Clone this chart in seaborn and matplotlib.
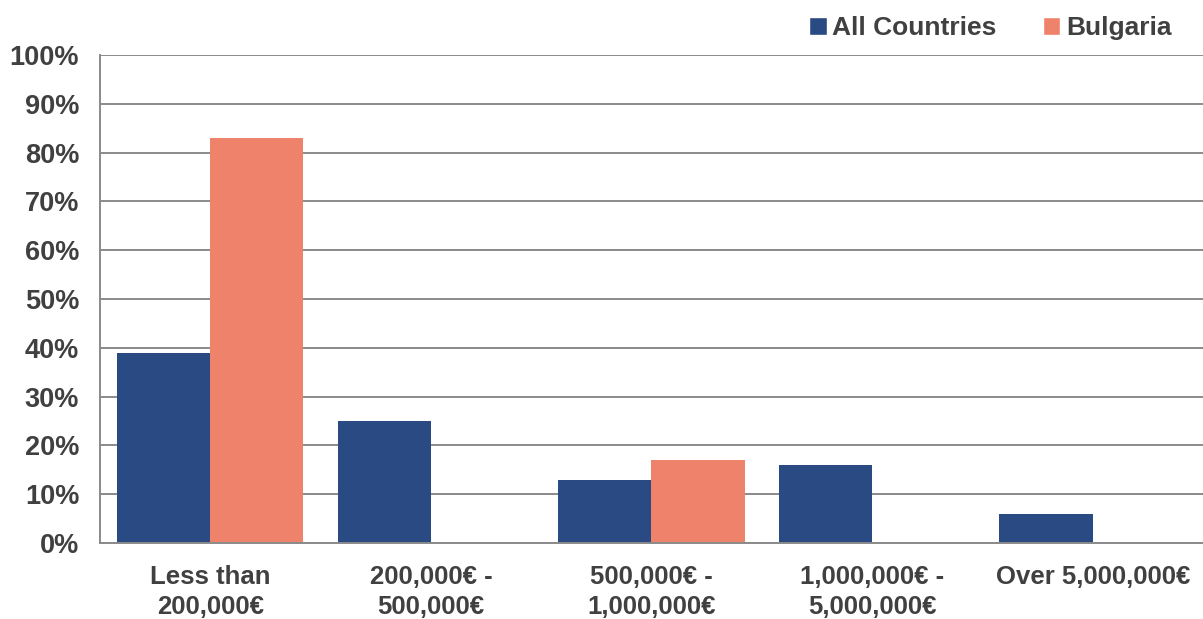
import pandas as pd
import matplotlib.pyplot as plt
import seaborn as sns
from matplotlib.patches import Patch
from matplotlib.ticker import PercentFormatter

# data
bands = ['Less than\n200,000€', '200,000€ -\n500,000€', '500,000€ -\n1,000,000€',
         '1,000,000€ -\n5,000,000€', 'Over 5,000,000€']
all_countries = [39, 25, 13, 16, 6]
bulgaria = [83, 0, 17, 0, 0]
groups = ['All Countries', 'Bulgaria']
colors = ['#2A4A83', '#EF826B']

df = pd.DataFrame({
    'band': bands * 2,
    'share': all_countries + bulgaria,
    'group': [groups[0]] * len(bands) + [groups[1]] * len(bands),
})

sns.set_style('white')
plt.rcParams['font.family'] = ['Liberation Sans', 'DejaVu Sans']
plt.rcParams['font.weight'] = 'bold'
txt = '#404040'

fig = plt.figure(figsize=(12.03, 6.19), dpi=100)
ax = fig.add_axes([0.0831, 0.1228, 0.9169, 0.7883])

sns.barplot(data=df, x='band', y='share', hue='group', palette=colors,
            width=0.845, saturation=1, linewidth=0, legend=False, ax=ax)

ax.set_ylim(0, 100)
ax.set_xlim(-0.5, 4.5)
ax.set_yticks(range(0, 101, 10))
ax.yaxis.set_major_formatter(PercentFormatter(decimals=0))
ax.yaxis.grid(True, color='#8a8a8a', linewidth=1.4)
ax.set_axisbelow(True)
ax.set_xlabel('')
ax.set_ylabel('')

for s in ['top', 'right']:
    ax.spines[s].set_visible(False)
for s in ['left', 'bottom']:
    ax.spines[s].set_color('#8a8a8a')
    ax.spines[s].set_linewidth(1.4)

ax.tick_params(axis='y', length=0, pad=15, labelsize=19.5, labelcolor=txt)
ax.tick_params(axis='x', length=0, pad=16, labelsize=18.5, labelcolor=txt)
for lab in ax.get_xticklabels():
    lab.set_linespacing(1.3)
    lab.set_fontweight('bold')
for lab in ax.get_yticklabels():
    lab.set_fontweight('bold')

handles = [Patch(facecolor=c, label=g) for c, g in zip(colors, groups)]
leg = fig.legend(handles=handles, loc='upper right', bbox_to_anchor=(0.9935, 1.012),
                 ncol=2, frameon=False, handlelength=0.65, handleheight=0.65,
                 handletextpad=0.22, columnspacing=1.75,
                 prop={'size': 19, 'weight': 'bold'})
for t in leg.get_texts():
    t.set_color(txt)

fig.savefig('out.png', dpi=100)
